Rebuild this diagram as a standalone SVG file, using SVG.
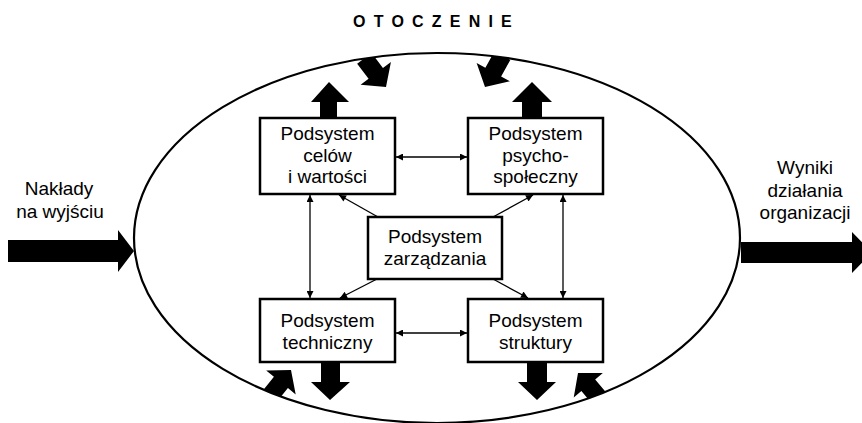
<svg xmlns="http://www.w3.org/2000/svg" width="862" height="423" viewBox="0 0 862 423">
<defs>
<style>
.box{fill:#fff;stroke:#000;stroke-width:2.5}
.t{font-family:"Liberation Sans",Arial,sans-serif;font-size:19px;fill:#000;text-anchor:middle}
.thin{stroke:#000;stroke-width:1.3;fill:none;marker-end:url(#ah)}
.dbl{marker-start:url(#ahs)}
.fat{fill:#000;stroke:none}
</style>
<clipPath id="inside"><ellipse cx="437" cy="238" rx="303" ry="185"/></clipPath>
<marker id="ah" viewBox="0 0 10 10" refX="10" refY="5" markerWidth="9" markerHeight="7" markerUnits="userSpaceOnUse" orient="auto">
<path d="M0,0 L10,5 L0,10 z" fill="#000"/>
</marker>
<marker id="ahs" viewBox="0 0 10 10" refX="0" refY="5" markerWidth="9" markerHeight="7" markerUnits="userSpaceOnUse" orient="auto">
<path d="M10,0 L0,5 L10,10 z" fill="#000"/>
</marker>
</defs>
<rect width="862" height="423" fill="#fff"/>
<text x="436.5" y="27" style="font-family:'Liberation Sans',Arial,sans-serif;font-size:16px;font-weight:bold;letter-spacing:8.2px;text-anchor:middle">OTOCZENIE</text>
<ellipse id="organizacja" cx="437" cy="238" rx="303" ry="185" fill="none" stroke="#000" stroke-width="2.2"/>
<g id="fat-arrows">
<path class="fat" d="M8,240 H118 V230 L134,251 L118,272 V262 H8 Z"/>
<path class="fat" d="M741,242 H852 V232 L872,252.5 L852,273 V263 H741 Z"/>
<path class="fat" d="M320,118 V102 H311 L329,82 L349,102 H337 V118 Z"/>
<path class="fat" d="M522,118 V102 H512 L532,82 L552,102 H542 V118 Z"/>
<path class="fat" d="M321,362 V382 H311 L330,400 L350,382 H340 V362 Z"/>
<path class="fat" d="M527,362 V382 H518 L537,400 L556,382 H547 V362 Z"/>
<g clip-path="url(#inside)">
<g transform="translate(386,87) rotate(-37)"><path class="fat" d="M0,0 L-19,-17 H-9 V-36 H9 V-17 H19 Z"/></g>
<g transform="translate(485,87) rotate(29)"><path class="fat" d="M0,0 L-19,-17 H-9 V-36 H9 V-17 H19 Z"/></g>
<g transform="translate(291,370) rotate(-141)"><path class="fat" d="M0,0 L-19,-16 H-9 V-40 H9 V-16 H19 Z"/></g>
<g transform="translate(578,373) rotate(140)"><path class="fat" d="M0,0 L-19,-16 H-9 V-40 H9 V-16 H19 Z"/></g>
</g>
</g>
<g id="connectors">
<line class="thin dbl" x1="396" y1="157" x2="467" y2="157"/>
<line class="thin dbl" x1="396" y1="333" x2="467" y2="333"/>
<line class="thin dbl" x1="310" y1="195" x2="310" y2="298"/>
<line class="thin dbl" x1="563" y1="195" x2="563" y2="298"/>
<line class="thin" x1="378" y1="217" x2="339" y2="195"/>
<line class="thin" x1="493" y1="217" x2="533" y2="195"/>
<line class="thin" x1="377" y1="279" x2="340" y2="298"/>
<line class="thin" x1="493" y1="279" x2="528" y2="298"/>
</g>
<g id="n-cele">
<rect class="box" x="260" y="118" width="135" height="76"/>
<text class="t" x="327.5" y="140">Podsystem</text>
<text class="t" x="327.5" y="162">celów</text>
<text class="t" x="327.5" y="183">i wartości</text>
</g>
<g id="n-psycho">
<rect class="box" x="468" y="118" width="135" height="76"/>
<text class="t" x="535.5" y="140">Podsystem</text>
<text class="t" x="535.5" y="162">psycho-</text>
<text class="t" x="535.5" y="183">społeczny</text>
</g>
<g id="n-zarzadzanie">
<rect class="box" x="368" y="217" width="134" height="62"/>
<text class="t" x="435" y="243">Podsystem</text>
<text class="t" x="435" y="265">zarządzania</text>
</g>
<g id="n-techniczny">
<rect class="box" x="260" y="299" width="135" height="63"/>
<text class="t" x="327.5" y="327">Podsystem</text>
<text class="t" x="327.5" y="349">techniczny</text>
</g>
<g id="n-struktura">
<rect class="box" x="468" y="299" width="135" height="63"/>
<text class="t" x="535.5" y="327">Podsystem</text>
<text class="t" x="535.5" y="349">struktury</text>
</g>
<g id="labels">
<text class="t" x="59" y="195">Nakłady</text>
<text class="t" x="60" y="218">na wyjściu</text>
<text class="t" x="805" y="174">Wyniki</text>
<text class="t" x="805" y="197">działania</text>
<text class="t" x="805" y="219">organizacji</text>
</g>
</svg>
